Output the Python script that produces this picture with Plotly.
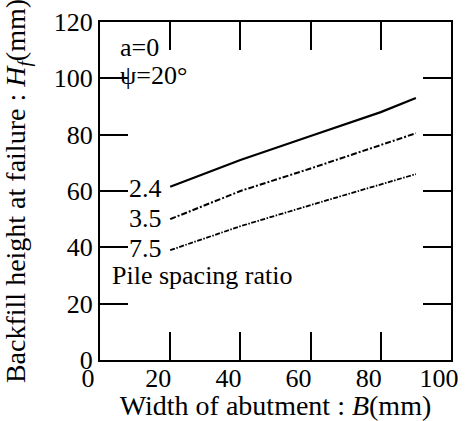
import plotly.graph_objects as go

width_B = [20, 40, 60, 80, 90]
hf_24 = [61.5, 71.0, 79.5, 88.0, 93.0]
hf_35 = [50.0, 60.0, 68.0, 76.5, 80.5]
hf_75 = [39.0, 47.5, 55.0, 62.5, 66.0]
series_names = ["2.4", "3.5", "7.5"]
x_ticks = [0, 20, 40, 60, 80, 100]
y_ticks = [0, 20, 40, 60, 80, 100, 120]
y_ticktext = ["\u00a0\u00a0\u00a0\u00a0" + str(v) for v in y_ticks]

FONT = "Liberation Serif"

fig = go.Figure()
fig.add_trace(go.Scatter(x=width_B, y=hf_24, mode="lines", name=series_names[0],
                         line=dict(color="black", width=2.2)))
fig.add_trace(go.Scatter(x=width_B, y=hf_35, mode="lines", name=series_names[1],
                         line=dict(color="black", width=2, dash="6px,2px,2px,2px")))
fig.add_trace(go.Scatter(x=width_B, y=hf_75, mode="lines", name=series_names[2],
                         line=dict(color="black", width=1.8, dash="5px,1.5px,1.5px,1.5px")))

ann = [
    dict(x=18.3, y=60.9, text=series_names[0], xanchor="right"),
    dict(x=18.3, y=50.3, text=series_names[1], xanchor="right"),
    dict(x=18.3, y=39.6, text=series_names[2], xanchor="right"),
    dict(x=2.8, y=29.9, text="Pile spacing ratio", xanchor="left"),
    dict(x=5.0, y=111, text="a=0", xanchor="left"),
    dict(x=5.0, y=101, text="ψ=20°", xanchor="left"),
]
for a in ann:
    fig.add_annotation(xref="x", yref="y", showarrow=False, yanchor="middle",
                       font=dict(family=FONT, size=26, color="black"), **a)

axis_common = dict(showgrid=False, zeroline=False, showline=True, linecolor="black",
                   linewidth=2, mirror="ticks", ticks="inside", ticklen=28, tickwidth=2,
                   tickcolor="black",
                   tickfont=dict(family=FONT, size=26, color="black"))
fig.update_xaxes(range=[0, 100], tickvals=x_ticks, ticklabelshift=-12, ticklabelstandoff=-6,
                 title=dict(text="Width of abutment : <i>B</i>(mm)", standoff=0,
                            font=dict(family=FONT, size=28, color="black")),
                 **axis_common)
fig.update_yaxes(range=[0, 120], tickvals=y_ticks, ticktext=y_ticktext, ticklabeloverflow="allow",
                 title=dict(text="Backfill height at failure : <i>H<sub>f</sub></i>(mm)", standoff=0,
                            font=dict(family=FONT, size=28, color="black")),
                 **axis_common)
fig.update_layout(width=467, height=421, margin=dict(l=99, r=8, t=10, b=59),
                  plot_bgcolor="white", paper_bgcolor="white", showlegend=False)
fig.write_html("out.html", config={"displayModeBar": False},
               post_script="document.body.style.margin='0';")
